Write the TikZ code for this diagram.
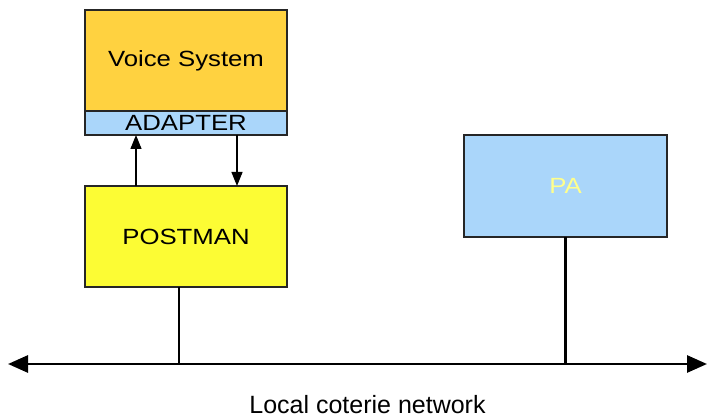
\documentclass[tikz,border=0pt]{standalone}
\usepackage{fontspec}
\setmainfont{Liberation Sans}
\newfontfamily\boxfont[FakeStretch=1.17]{Liberation Sans}
\usetikzlibrary{arrows.meta}
\definecolor{voiceorange}{RGB}{255,210,64}
\definecolor{adapterblue}{RGB}{170,214,250}
\definecolor{postyellow}{RGB}{252,252,52}
\definecolor{patext}{RGB}{255,255,140}
\tikzset{
  boxnode/.style={draw=black!85, line width=1.3pt, inner sep=0pt, outer sep=0pt,
    font=\boxfont\fontsize{22}{26}\selectfont},
  smallarrow/.style={line width=1.2pt, -{Triangle[length=14pt,width=11pt]}},
  netline/.style={line width=2.8pt},
}
\begin{document}
\begin{tikzpicture}[x=1pt,y=-1pt]
\useasboundingbox (0,0) rectangle (707,419);
% Voice system with adapter
\node[boxnode, fill=voiceorange, minimum width=202pt, minimum height=101pt, anchor=north west] (voice) at (85,10) {Voice System};
\node[boxnode, fill=adapterblue, minimum width=202pt, minimum height=24pt, anchor=north west] (adapter) at (85,111) {\raisebox{1pt}{ADAPTER}};
% Postman
\node[boxnode, fill=postyellow, minimum width=202pt, minimum height=101pt, anchor=north west] (postman) at (85,186) {POSTMAN};
% PA
\node[boxnode, fill=adapterblue, minimum width=203pt, minimum height=102pt, anchor=north west, text=patext] (pa) at (464,135) {PA};
% arrows between adapter and postman
\draw[smallarrow] (postman.north west) ++(51,0) coordinate (upfrom) -- (upfrom |- adapter.south);
\draw[smallarrow] (adapter.south west) ++(152,0) coordinate (downfrom) -- (downfrom |- postman.north);
% network
\coordinate (netL) at (8,364);
\coordinate (netR) at (707,364);
\draw[netline, {Triangle[length=20pt,width=17pt]}-{Triangle[length=20pt,width=17pt]}] (netL) -- (netR);
\draw[netline] (postman.south west) ++(94,0) coordinate (pdrop) -- (pdrop |- netL);
\draw[netline] (pa.south) -- (pa.south |- netL);
\node[font=\fontsize{25}{30}\selectfont, inner sep=0pt, anchor=base] (label) at (367.5,413.5) {Local coterie network};
\end{tikzpicture}
\end{document}
